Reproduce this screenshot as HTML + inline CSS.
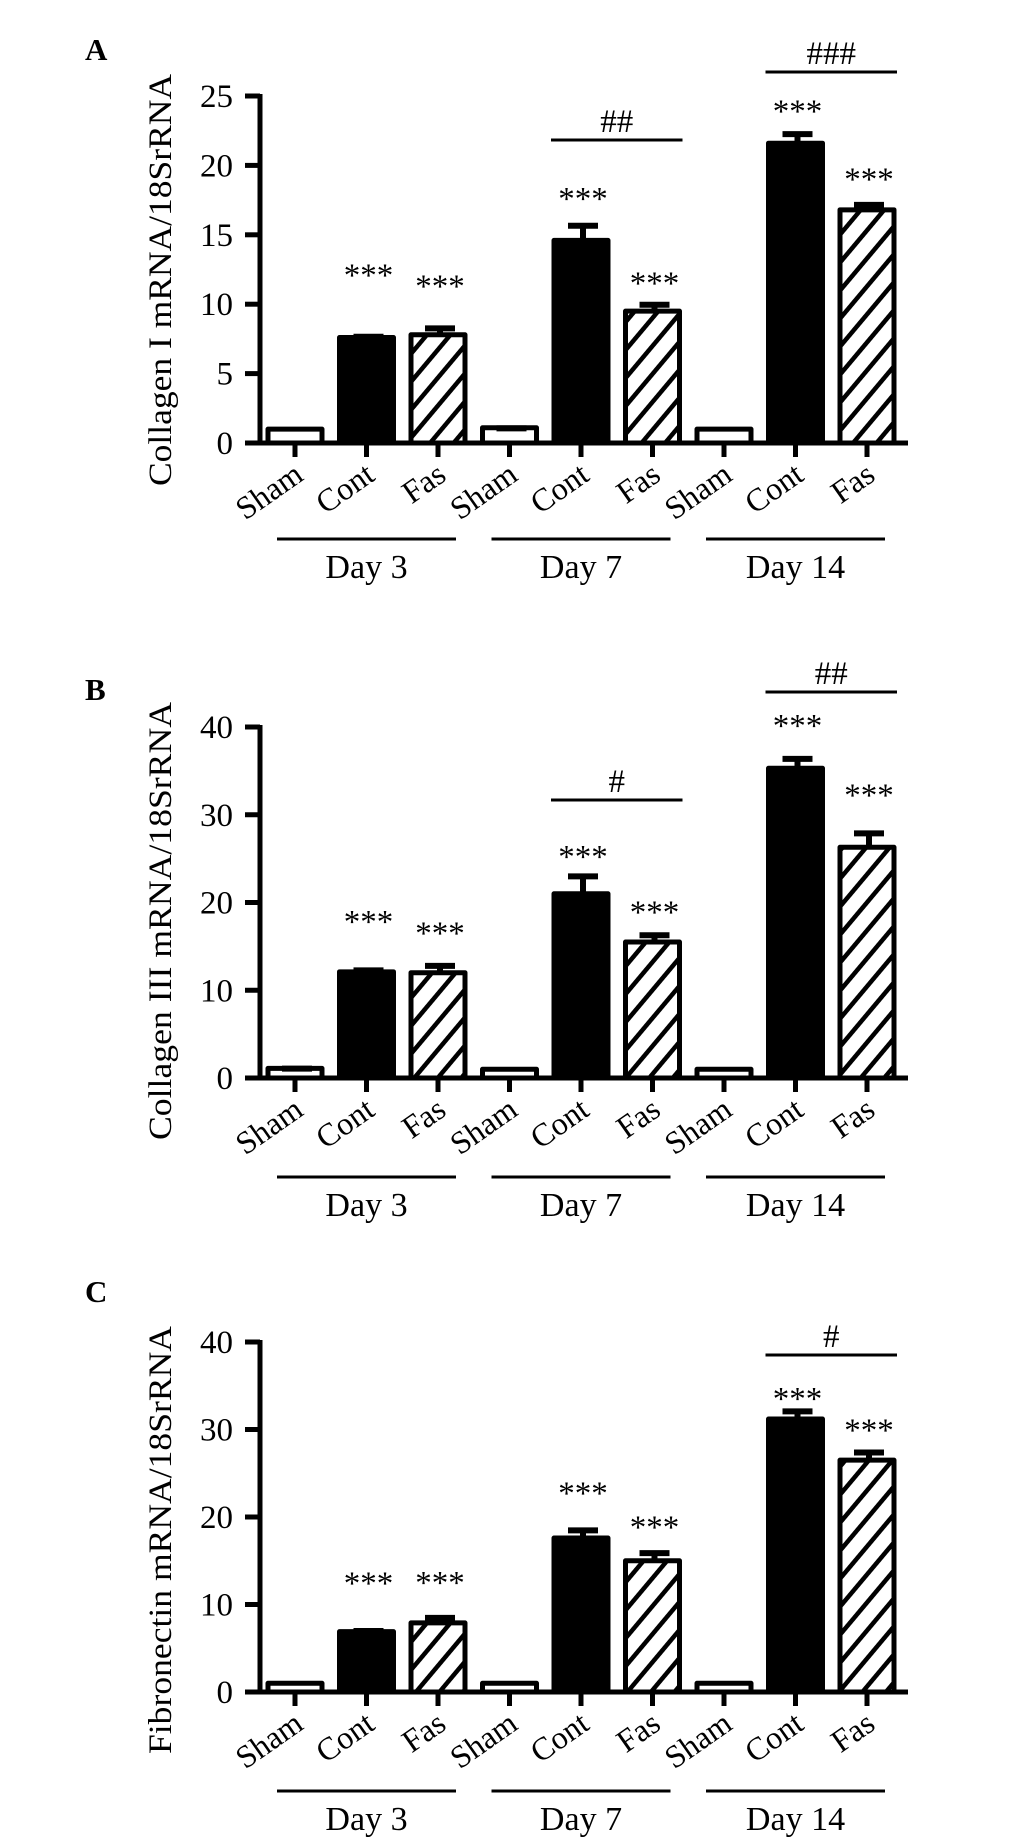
<!DOCTYPE html>
<html><head><meta charset="utf-8"><style>
html,body{margin:0;padding:0;background:#fff}
svg{display:block}
text{font-family:"Liberation Serif",serif;fill:#000}
</style></head><body>
<svg id="fig" width="1033" height="1842" viewBox="0 0 1033 1842">
<defs>
<pattern id="hatch" patternUnits="userSpaceOnUse" width="18" height="18" patternTransform="rotate(40)">
<rect width="18" height="18" fill="#fff"/>
<rect x="0" y="0" width="4.5" height="18" fill="#000"/>
</pattern>
</defs>
</svg>
<script>
// ---- data ----
const categories = ["Sham","Cont","Fas","Sham","Cont","Fas","Sham","Cont","Fas"];
const groupLabels = ["Day 3","Day 7","Day 14"];
const aValues = [1.0, 7.6, 7.8, 1.1, 14.6, 9.5, 1.0, 21.6, 16.8];
const aErrors = [0, 0.2, 0.6, 0.1, 1.2, 0.6, 0, 0.8, 0.5];
const aStars = [null, 12.4, 11.6, null, 17.9, 11.8, null, 24.2, 19.3];
const aTicks = [0,5,10,15,20,25];
const bValues = [1.1, 12.1, 12.0, 1.0, 21.0, 15.5, 1.0, 35.3, 26.3];
const bErrors = [0.2, 0.4, 1.0, 0, 2.2, 1.0, 0, 1.3, 1.8];
const bStars = [null, 18.3, 17.0, null, 25.7, 19.4, null, 40.6, 32.7];
const bTicks = [0,10,20,30,40];
const cValues = [1.0, 6.9, 7.9, 1.0, 17.6, 15.0, 1.0, 31.2, 26.5];
const cErrors = [0, 0.3, 0.8, 0, 1.1, 1.1, 0, 1.1, 1.1];
const cStars = [null, 12.9, 13.0, null, 23.2, 19.3, null, 34.0, 30.4];
const cTicks = [0,10,20,30,40];

const NS="http://www.w3.org/2000/svg";
const svg=document.getElementById('fig');
function mk(tag,attrs,parent,txt){const e=document.createElementNS(NS,tag);for(const k in attrs)e.setAttribute(k,attrs[k]);if(txt!==undefined)e.textContent=txt;(parent||svg).appendChild(e);return e;}

function panel(cfg){
  const g=mk('g',{});
  
  
  const y0=cfg.y0, yTop=cfg.yTop, max=cfg.ticks[cfg.ticks.length-1];
  const yS=v=>y0-(v/max)*(y0-yTop);
  const xS=i=>295+i*71.5;
  const axX=260;
  // letter
  const L=mk('text',{x:85,y:cfg.letterY,'font-size':31,'font-weight':'bold'},g,cfg.letter);
  
  
  // y title
  const T=mk('text',{x:0,y:0,'font-size':33,'text-anchor':'middle',transform:`translate(171,${cfg.titleY}) rotate(-90)`,textLength:cfg.titleLen,lengthAdjust:'spacingAndGlyphs'},g,cfg.title);
  
  
  // bars
  cfg.values.forEach((v,i)=>{
    const cx=xS(i), top=yS(v), w=54;
    const kind=i%3;
    const fill=kind===0?'#fff':(kind===1?'#000':'url(#hatch)');
    const r=mk('rect',{x:cx-w/2,y:top,width:w,height:Math.max(0,y0-top),fill:fill,stroke:'#000','stroke-width':5,'stroke-linejoin':'round'},g);
    
    
    const e=cfg.errors[i];
    if(e>0){
      const et=yS(v+e);
      const s=mk('line',{x1:cx+2,x2:cx+2,y1:top,y2:et,stroke:'#000','stroke-width':6},g);
      
      
      const c=mk('line',{x1:cx-13,x2:cx+17,y1:et+2,y2:et+2,stroke:'#000','stroke-width':6},g);
      
      
    }
    const st=cfg.stars[i];
    if(st!==null){
      const t=mk('text',{x:cx+2,y:yS(st)+15,'font-size':33,'text-anchor':'middle'},g,'***');
      
      
    }
    // x tick
    const tk=mk('line',{x1:cx,x2:cx,y1:y0,y2:y0+14,stroke:'#000','stroke-width':5},g);
    
    
    const lb=mk('text',{x:0,y:0,'font-size':32,'text-anchor':'end',transform:`translate(${cx+10},${y0+36}) rotate(-35)`},g,categories[i]);
    
    
  });
  // axes
  const ya=mk('line',{x1:axX,x2:axX,y1:yTop-2,y2:y0+2,stroke:'#000','stroke-width':5},g);
  
  
  const xa=mk('line',{x1:245,x2:908,y1:y0,y2:y0,stroke:'#000','stroke-width':5},g);
  
  
  cfg.ticks.forEach(t=>{
    const y=yS(t);
    const l=mk('line',{x1:245,x2:axX,y1:y,y2:y,stroke:'#000','stroke-width':5},g);
    
    
    const tx=mk('text',{x:233,y:y+11,'font-size':33,'text-anchor':'end'},g,String(t));
    
    
  });
  // group lines
  groupLabels.forEach((lab,k)=>{
    const x1=xS(k*3)-18, x2=xS(k*3+2)+18;
    const gl=mk('line',{x1:x1,x2:x2,y1:cfg.groupY,y2:cfg.groupY,stroke:'#000','stroke-width':3},g);
    
    
    const gt=mk('text',{x:(x1+x2)/2,y:cfg.groupY+39,'font-size':34,'text-anchor':'middle'},g,lab);
    
    
  });
  // comparison brackets
  cfg.comps.forEach(c=>{
    const x1=xS(c.i)-30, x2=xS(c.i+1)+30, y=c.y;
    const bl=mk('line',{x1:x1,x2:x2,y1:y,y2:y,stroke:'#000','stroke-width':3},g);
    
    
    const bt=mk('text',{x:(x1+x2)/2,y:y-8,'font-size':33,'text-anchor':'middle'},g,c.label);
    
    
  });
}

panel({name:'panel-a',letter:'A',letterY:60,y0:443,yTop:96,ticks:aTicks,values:aValues,errors:aErrors,stars:aStars,
  title:'Collagen I mRNA/18SrRNA',titleY:280,titleLen:412,groupY:539,
  comps:[{i:4,y:140,label:'##'},{i:7,y:72,label:'###'}]});
panel({name:'panel-b',letter:'B',letterY:700,y0:1078,yTop:727,ticks:bTicks,values:bValues,errors:bErrors,stars:bStars,
  title:'Collagen III  mRNA/18SrRNA',titleY:921,titleLen:438,groupY:1177,
  comps:[{i:4,y:800,label:'#'},{i:7,y:692,label:'##'}]});
panel({name:'panel-c',letter:'C',letterY:1302,y0:1692,yTop:1342,ticks:cTicks,values:cValues,errors:cErrors,stars:cStars,
  title:'Fibronectin mRNA/18SrRNA',titleY:1540,titleLen:428,groupY:1791,
  comps:[{i:7,y:1355,label:'#'}]});
</script>
</body></html>
